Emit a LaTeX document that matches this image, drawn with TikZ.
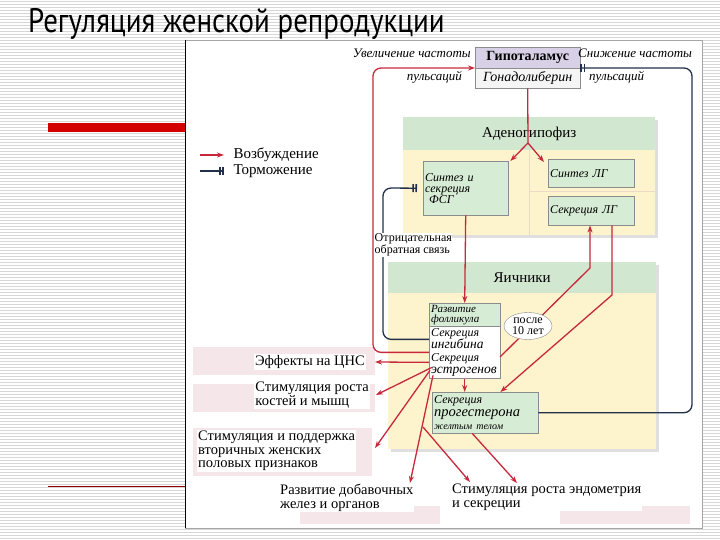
\documentclass[tikz,border=0pt]{standalone}
\usepackage{fontspec}
\setmainfont{Liberation Serif}
\newfontfamily\titlefont[FakeStretch=0.85]{PT Sans}
\usetikzlibrary{arrows.meta,positioning,shapes.geometric}
\definecolor{exred}{HTML}{C8283C}
\definecolor{inhblue}{HTML}{22304A}
\definecolor{hypviolet}{HTML}{D8D0E6}
\definecolor{hdrgreen}{HTML}{D2E7CF}
\definecolor{boxgreen}{HTML}{D7ECD5}
\definecolor{cream}{HTML}{FDF3CC}
\definecolor{boxgray}{HTML}{8C8C8C}
\definecolor{stripe}{HTML}{D6D6D6}
\definecolor{barred}{HTML}{D40000}
\definecolor{palepink}{HTML}{F5E6E9}

\begin{document}
\begin{tikzpicture}[x=1pt,y=-1pt,
  block/.style={anchor=north west,inner sep=0pt},
  hdr/.style={block,fill=hdrgreen,font=\fontsize{15}{15}\selectfont},
  cell/.style={anchor=north west,draw=boxgray,fill=boxgreen,inner sep=2pt,align=left,font=\itshape\fontsize{12}{11}\selectfont},
  lbl/.style={inner sep=1pt,font=\itshape\fontsize{13}{13}\selectfont},
  effect/.style={fill=white,inner sep=1pt,align=left,font=\fontsize{14.5}{13.5}\selectfont},
  divider/.style={draw=brown!30,line width=0.6pt},
  excite/.style={draw=exred,line width=1.3pt,-{Stealth[length=7pt,width=5pt]}},
  inhibit/.style={draw=inhblue,line width=1.3pt,-{Bar[width=8pt,line width=1.6pt,sep=1.5pt]Bar[width=8pt,line width=1.6pt]}}]
\useasboundingbox (0,0) rectangle (720,540);
% slide background
\fill[white] (0,0) rectangle (720,540);
\foreach \y in {1.5,4.5,...,540}
  \draw[stripe,line width=1pt] (0,\y) -- (720,\y);
\fill[barred] (48,123) rectangle (185,132);
\draw[barred!70!black,line width=1pt] (48,486) -- (185,486);
\node[anchor=base west,inner sep=0pt,font=\titlefont\fontsize{34}{34}\selectfont] (title) at (28,33) {Регуляция женской репродукции};
% picture panel
\fill[white] (185,40) rectangle (702,528);
\draw[gray!70] (185,40) rectangle (702,528);
\draw[black,line width=1pt] (185,40) -- (185,528);
\fill[palepink] (193,347) rectangle (375,375);
\fill[palepink] (193,384) rectangle (375,412);
\fill[palepink] (193,428) rectangle (372,476);
\fill[palepink] (300,506) rectangle (440,524);
\fill[palepink] (560,506) rectangle (690,524);

% hypothalamus
\node[block,draw=boxgray,fill=hypviolet,minimum width=105pt,minimum height=21pt,font=\bfseries\fontsize{14}{14}\selectfont] (hyp) at (475,47) {Гипоталамус};
\node[block,draw=boxgray,fill=gray!8,minimum width=105pt,minimum height=20pt,font=\itshape\fontsize{14}{14}\selectfont] (gnrh) at (475,68) {Гонадолиберин};
\node[lbl,anchor=east] (upfreq) at (472,53) {Увеличение частоты};
\node[lbl,anchor=east] (uppuls) at (463,77) {пульсаций};
\node[lbl,anchor=west] (downfreq) at (577,53) {Снижение частоты};
\node[lbl,anchor=west] (downpuls) at (588,77) {пульсаций};

% adenohypophysis
\fill[gray!25] (406,120) rectangle (658,238);
\node[hdr,minimum width=252pt,minimum height=33pt] (adeno) at (403,117) {Аденогипофиз};
\node[block,fill=cream,minimum width=252pt,minimum height=85pt] (adenobody) at (403,150) {};
\draw[divider] (adenobody.north) -- (adenobody.south);
\draw[divider] (adenobody.north) ++(0,41) -- (adenobody.north east |- 0,191);
\node[cell,text width=81pt,minimum height=54pt] (fsh) at (423,161) {Синтез и\\секреция\\\ ФСГ};
\node[cell,text width=82pt,minimum height=28pt] (lhsyn) at (548,159) {Синтез ЛГ};
\node[cell,text width=82pt,minimum height=29pt] (lhsec) at (548,196) {Секреция ЛГ};

% ovaries
\fill[gray!25] (391,265) rectangle (659,452);
\node[hdr,minimum width=268pt,minimum height=31pt] (ovary) at (388,262) {Яичники};
\node[block,fill=cream,minimum width=268pt,minimum height=156pt] (ovarybody) at (388,293) {};
\node[cell,text width=67pt,minimum height=23pt,font=\itshape\fontsize{11}{10.5}\selectfont] (follicle) at (429,303) {Развитие\\фолликула};
\node[cell,fill=white,text width=67pt,minimum height=52pt,font=\itshape\fontsize{13.5}{12.5}\selectfont] (secr) at (429,326) {{\fontsize{12}{12.5}\selectfont Секреция}\\ингибина\\{\fontsize{12}{12.5}\selectfont Секреция}\\эстрогенов};
\node[cell,text width=102pt,minimum height=41pt,font=\itshape\fontsize{12}{13}\selectfont] (prog) at (432,392) {Секреция\\{\fontsize{14.5}{13}\selectfont прогестерона}\\{\fontsize{10}{13}\selectfont желтым телом}};

% bends and free ends
\coordinate (split) at (528,143);
\coordinate (loopR) at (373,68);
\coordinate (loopB) at (383,188);
\coordinate (loopC) at (692,68);
\coordinate (kneeA) at (590,268);
\coordinate (kneeB) at (612,295);
\coordinate (estr) at (500,357);
\coordinate (br) at (423,427);
\coordinate (tcns) at (375,362);
\coordinate (tbone) at (376,395);
\coordinate (tsec) at (375,448);
\coordinate (tacc) at (410,483);
\coordinate (tendoA) at (470,482);
\coordinate (tendoB) at (517,483);

% excitation
\draw[excite] (gnrh.south) -- (split) -- ([xshift=2pt]fsh.north east);
\draw[excite] (split) -- ([xshift=-4pt,yshift=-3pt]lhsyn.north west);
\draw[excite] (fsh.south) -- (follicle.north);
\draw[excite,rounded corners=8pt] (secr.west) -- (secr.west -| loopR) -- (loopR) -- (gnrh.north west);
\draw[excite] (estr) -- (kneeA) -- (kneeA |- lhsec.south);
\draw[excite] (kneeB |- lhsec.south) -- (kneeB) -- ([xshift=-38pt]prog.north east);
\draw[excite] (secr.south) -- (secr.south |- prog.north);
\draw[excite] ([yshift=-10pt]secr.west) -- (tcns);
\draw[excite] ([xshift=3pt,yshift=-15pt]secr.west) -- (tbone);
\draw[excite] ([xshift=1pt,yshift=-18pt]secr.west) -- (tsec);
\draw[excite] ([xshift=4pt,yshift=-23pt]secr.west) -- (tacc);
\draw[excite] (br) -- (tendoA);
\draw[excite] ([xshift=-13pt]prog.south) -- (tendoB);

% inhibition
\draw[inhibit,rounded corners=8pt] ([yshift=13pt]secr.west) -- ([yshift=13pt]secr.west -| loopB) -- (loopB) -- ([xshift=-6pt]fsh.west);
\draw[inhibit,rounded corners=8pt] (prog.east) -- (prog.east -| loopC) -- (loopC) -- (gnrh.north east);

\node[ellipse,draw=boxgray,fill=white,inner sep=0pt,minimum width=48pt,minimum height=27pt,align=center,font=\fontsize{12}{11}\selectfont] (after10) at (528,326) {после\\10 лет};
\node[anchor=north west,fill=white,inner sep=0.5pt,align=left,font=\fontsize{12}{10.5}\selectfont] (negfb) at (374,233) {Отрицательная\\обратная связь};

% effects
\node[effect,anchor=east] (cns) at (366,362) {Эффекты на ЦНС};
\node[effect,anchor=north east] (bone) at (370,381) {Стимуляция роста\\костей и мышц};
\node[effect,anchor=north west] (sexchar) at (197,430) {Стимуляция и поддержка\\вторичных женских\\половых признаков};
\node[effect,anchor=north west] (glands) at (279,483) {Развитие добавочных\\желез и органов};
\node[effect,anchor=north west] (endom) at (451,483) {Стимуляция роста эндометрия\\и секреции};

% legend
\coordinate (legA) at (200,155);
\coordinate (legB) at (224,155);
\coordinate (legC) at (200,171);
\coordinate (legD) at (224,171);
\draw[excite] (legA) -- (legB);
\draw[inhibit] (legC) -- (legD);
\node[anchor=west,font=\fontsize{15}{15}\selectfont] (exlbl) at (230,155) {Возбуждение};
\node[anchor=west,font=\fontsize{15}{15}\selectfont] (inlbl) at (230,171) {Торможение};
\end{tikzpicture}
\end{document}
